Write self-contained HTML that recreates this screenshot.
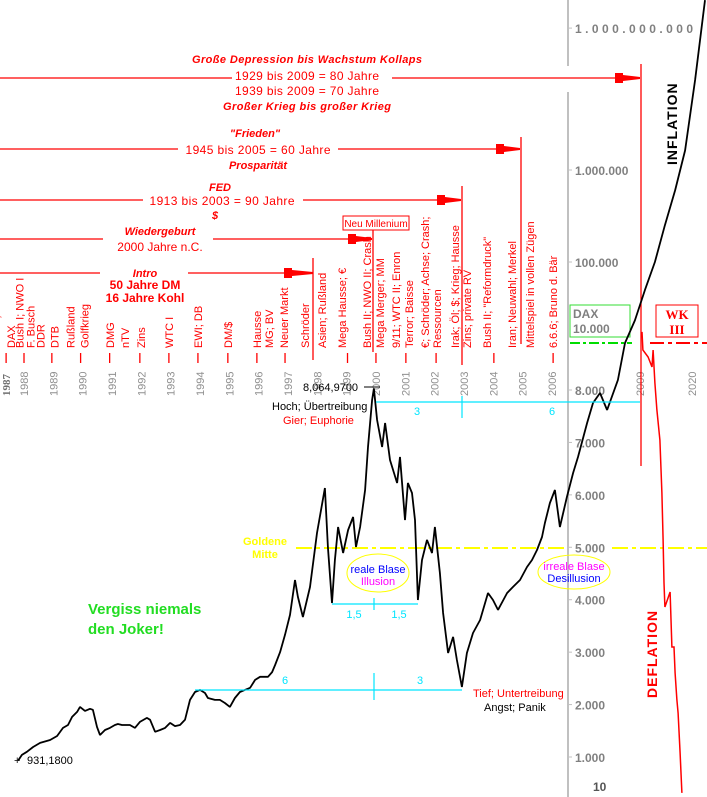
<!DOCTYPE html>
<html><head><meta charset="utf-8"><style>
html,body{margin:0;padding:0;background:#fff;}
svg{display:block;font-family:"Liberation Sans",sans-serif;}
</style></head><body>
<svg id="chart" width="707" height="797" viewBox="0 0 707 797" xmlns="http://www.w3.org/2000/svg">
<g id="axis">
<line x1="568" y1="0" x2="568" y2="66" stroke="#c0c0c0" stroke-width="2"/>
<line x1="568" y1="92" x2="568" y2="797" stroke="#c0c0c0" stroke-width="2"/>
</g>
<g id="yticks" fill="#808080" font-weight="bold" font-size="12"></g>
<g id="years" fill="#909090" font-size="11"></g>
<g id="events" fill="#ff0000" font-size="11"></g>

<g stroke="#ff0000" stroke-width="1.3">
<line x1="0" y1="78" x2="232" y2="78"/><line x1="392" y1="78" x2="640" y2="78"/>
<line x1="0" y1="149" x2="178" y2="149"/><line x1="338" y1="149" x2="520" y2="149"/>
<line x1="0" y1="200" x2="143" y2="200"/><line x1="303" y1="200" x2="461" y2="200"/>
<line x1="0" y1="239" x2="103" y2="239"/><line x1="213" y1="239" x2="372" y2="239"/>
<line x1="0" y1="273" x2="100" y2="273"/><line x1="188" y1="273" x2="313" y2="273"/>
<line x1="641" y1="64" x2="641" y2="466"/>
<line x1="521" y1="137" x2="521" y2="344"/>
<line x1="462" y1="186" x2="462" y2="365"/>
<line x1="373" y1="229" x2="373" y2="352"/>
<line x1="313" y1="258" x2="313" y2="360"/>
</g>
<g fill="#ff0000">
<polygon points="615,73 623,73 623,75 640,77 640,79 623,81 623,83 615,83"/>
<polygon points="496,144 504,144 504,146 520,148 520,150 504,152 504,154 496,154"/>
<polygon points="437,195 445,195 445,197 461,199 461,201 445,203 445,205 437,205"/>
<polygon points="348,234 356,234 356,236 372,238 372,240 356,242 356,244 348,244"/>
<polygon points="284,268 292,268 292,270 313,272 313,274 292,276 292,278 284,278"/>
</g>
<g fill="#ff0000" font-size="12" text-anchor="middle">
<text x="307" y="63" font-style="italic" font-weight="bold" font-size="11" textLength="230">Große Depression bis Wachstum Kollaps</text>
<text x="307" y="80" textLength="144">1929 bis 2009 = 80 Jahre</text>
<text x="307" y="95" textLength="144">1939 bis 2009 = 70 Jahre</text>
<text x="307" y="110" font-style="italic" font-weight="bold" font-size="11" textLength="168">Großer Krieg bis großer Krieg</text>
<text x="255" y="137" font-style="italic" font-weight="bold" font-size="11">"Frieden"</text>
<text x="258" y="154" textLength="145">1945 bis 2005 = 60 Jahre</text>
<text x="258" y="169" font-style="italic" font-weight="bold" font-size="11">Prosparität</text>
<text x="220" y="191" font-style="italic" font-weight="bold" font-size="11">FED</text>
<text x="222" y="205" textLength="145">1913 bis 2003 = 90 Jahre</text>
<text x="215" y="219" font-style="italic" font-weight="bold" font-size="11">$</text>
<text x="160" y="235" font-style="italic" font-weight="bold" font-size="11">Wiedergeburt</text>
<text x="160" y="251">2000 Jahre n.C.</text>
<text x="145" y="277" font-style="italic" font-weight="bold" font-size="11">Intro</text>
<text x="145" y="289" font-weight="bold" font-size="12">50 Jahre DM</text>
<text x="145" y="302" font-weight="bold" font-size="12">16 Jahre Kohl</text>
</g>
<g>
<rect x="343" y="216" width="66" height="14" fill="#fff" stroke="#ff0000"/>
<text x="376" y="227" font-size="10" fill="#ff0000" text-anchor="middle">Neu Millenium</text>
</g>

<line x1="296" y1="548" x2="568" y2="548" stroke="#ffff00" stroke-width="2" stroke-dasharray="16,4,4,4"/>
<line x1="612" y1="548" x2="707" y2="548" stroke="#ffff00" stroke-width="2" stroke-dasharray="16,4,4,4"/>
<text fill="#ffff00" font-weight="bold" font-size="11" text-anchor="middle"><tspan x="265" y="545">Goldene</tspan><tspan x="265" y="558">Mitte</tspan></text>
<line x1="570" y1="343" x2="632" y2="343" stroke="#00dd00" stroke-width="2" stroke-dasharray="10,3,3,3"/>
<line x1="650" y1="343" x2="707" y2="343" stroke="#ff0000" stroke-width="2" stroke-dasharray="14,4,4,4"/>
<g>
<rect x="570" y="305" width="60" height="32" fill="#fff" stroke="#33dd33"/>
<text x="573" y="318" font-size="12" font-weight="bold" fill="#808080">DAX</text>
<text x="573" y="333" font-size="12" font-weight="bold" fill="#808080">10.000</text>
</g>
<g>
<rect x="656" y="305" width="42" height="32" fill="#fff" stroke="#ff0000"/>
<text x="677" y="319" font-size="13" font-weight="bold" fill="#ff0000" text-anchor="middle" font-family="Liberation Serif, serif">WK</text>
<text x="677" y="334" font-size="13" font-weight="bold" fill="#ff0000" text-anchor="middle" font-family="Liberation Serif, serif">III</text>
</g>
<text transform="translate(677,165) rotate(-90)" font-size="14" font-weight="bold" fill="#000" letter-spacing="1">INFLATION</text>
<text transform="translate(657,698) rotate(-90)" font-size="14" font-weight="bold" fill="#ff0000" letter-spacing="1">DEFLATION</text>

<path id="daxLine" fill="none" stroke="#000" stroke-width="1.8" stroke-linejoin="bevel"/>
<path id="defLine" fill="none" stroke="#ff0000" stroke-width="1.5"/>

<g stroke="#00e5ff" stroke-width="1.2" fill="none">
<line x1="376" y1="402" x2="640" y2="402"/><line x1="462" y1="396" x2="462" y2="418"/>
<line x1="332" y1="604" x2="418" y2="604"/><line x1="374" y1="598" x2="374" y2="610"/>
<line x1="195" y1="690" x2="462" y2="690"/><line x1="374" y1="673" x2="374" y2="700"/>
</g>
<g fill="#00e5ff" font-size="11" text-anchor="middle">
<text x="417" y="415">3</text><text x="552" y="415">6</text>
<text x="354" y="618">1,5</text><text x="399" y="618">1,5</text>
<text x="285" y="684">6</text><text x="420" y="684">3</text>
</g>
<g>
<ellipse cx="378" cy="573" rx="31" ry="19" fill="none" stroke="#ffff00"/>
<text x="378" y="573" font-size="11" fill="#0000ff" text-anchor="middle">reale Blase</text>
<text x="378" y="585" font-size="11" fill="#ff00ff" text-anchor="middle">Illusion</text>
</g>
<g>
<ellipse cx="574" cy="572" rx="36" ry="17" fill="none" stroke="#ffff00"/>
<text x="574" y="570" font-size="11" fill="#ff00ff" text-anchor="middle">irreale Blase</text>
<text x="574" y="582" font-size="11" fill="#0000ff" text-anchor="middle">Desillusion</text>
</g>
<g font-size="11">
<text x="303" y="391" fill="#000">8,064,9700</text>
<line x1="364" y1="387" x2="380" y2="387" stroke="#000"/>
<text x="272" y="410" fill="#000">Hoch; Übertreibung</text>
<text x="283" y="424" fill="#ff0000">Gier; Euphorie</text>
<text x="473" y="697" fill="#ff0000">Tief; Untertreibung</text>
<text x="484" y="711" fill="#000">Angst; Panik</text>
<text x="14" y="764" fill="#000">+</text>
<text x="27" y="764" fill="#000">931,1800</text>
</g>
<text fill="#22dd22" font-weight="bold" font-size="15"><tspan x="88" y="614">Vergiss niemals</tspan><tspan x="88" y="634">den Joker!</tspan></text>
</svg>
<script>
const daxYears=[1987.80,1987.93,1988.10,1988.31,1988.55,1988.89,1989.13,1989.33,1989.50,1989.64,1989.81,1989.91,1990.08,1990.25,1990.35,1990.49,1990.59,1990.76,1990.93,1991.10,1991.20,1991.34,1991.61,1991.78,1991.95,1992.19,1992.30,1992.47,1992.64,1992.81,1992.98,1993.15,1993.32,1993.49,1993.66,1993.83,1994.00,1994.17,1994.27,1994.51,1994.68,1994.85,1995.02,1995.19,1995.36,1995.53,1995.71,1995.88,1996.05,1996.32,1996.46,1996.56,1996.73,1996.90,1997.07,1997.24,1997.34,1997.51,1997.75,1997.99,1998.26,1998.36,1998.50,1998.60,1998.71,1998.88,1999.05,1999.22,1999.32,1999.46,1999.63,1999.73,1999.87,1999.93,2000.04,2000.21,2000.31,2000.48,2000.72,2000.82,2000.99,2001.09,2001.23,2001.33,2001.43,2001.57,2001.74,2001.91,2002.01,2002.18,2002.29,2002.46,2002.63,2002.76,2002.93,2003.10,2003.31,2003.55,2003.82,2003.99,2004.16,2004.47,2004.67,2004.91,2005.15,2005.32,2005.49,2005.66,2005.76,2005.93,2006.10,2006.27,2006.51,2006.72,2006.89,2007.20,2007.40,2007.64,2007.88,2008.25,2008.49,2008.83,2009.17,2009.51,2009.85,2010.20,2010.54,2010.88,2011.22];
const daxValues=[931,1040,1100,1190,1270,1325,1400,1555,1610,1765,1860,1955,1880,1920,1900,1575,1420,1515,1555,1610,1630,1610,1610,1555,1670,1745,1710,1480,1515,1555,1650,1590,1610,1710,2090,2240,2280,2220,2125,2090,2090,2030,1955,2125,2240,2280,2320,2470,2530,2530,2620,2755,3000,3330,3710,4377,4053,3671,4243,5273,6131,5006,3938,4758,5387,4892,5330,5578,5006,5387,6093,6913,7809,8064,7428,6913,7371,6665,6226,6722,5521,6226,6036,5521,3995,4758,5140,4892,5387,4510,3747,2984,3290,2851,2336,2984,3366,3614,4129,3995,3805,4129,4243,4377,4625,4758,4949,5197,5464,5845,6093,5387,5960,6417,6722,7371,7752,7943,7619,8426,10000,19000,45000,100000,251000,600000,2600000,80000000,3900000000];
const defYears=[2009.07,2009.10,2009.28,2009.41,2009.45,2009.51,2009.58,2009.68,2009.75,2009.79,2009.82,2009.85,2010.03,2010.09,2010.16,2010.20,2010.26,2010.30,2010.37,2010.43];
const defValues=[13700,9702,9404,8979,9702,8298,7619,7047,6036,5140,4320,3862,4148,3099,3099,2603,2088,1840,1078,315];
const yTickLabels=["1.000.000.000","1.000.000","100.000","8.000","7.000","6.000","5.000","4.000","3.000","2.000","1.000"];
const yTickValues=[1e9,1e6,1e5,8000,7000,6000,5000,4000,3000,2000,1000];
const yearLabels=["1988","1989","1990","1991","1992","1993","1994","1995","1996","1997","1998","1999","2000","2001","2002","2003","2004","2005","2006","2009"];
const eventTexts=["Crash;","DAX","Bush I; NWO I","F. Busch","DDR","DTB","Rußland","Golfkrieg","DMG","nTV","Zins","WTC I","EWI; DB","DM/$","Hausse","MG; BV","Neuer Markt","Schröder","Asien; Rußland","Mega Hausse; €","Bush II; NWO II; Crash","Mega Merger; MM","9/11; WTC II; Enron","Terror; Baisse","€; Schröder; Achse; Crash;","Ressourcen","Irak; Öl; $; Krieg; Hausse","Zins; private RV","Bush II; \"Reformdruck\"","Iran; Neuwahl; Merkel","Mittelspiel in vollen Zügen","6.6.6; Bruno d. Bär"];
const eventYears=[1987.04,1987.55,1987.85,1988.22,1988.56,1989.04,1989.58,1990.06,1990.93,1991.44,1991.99,1992.94,1993.93,1994.95,1995.94,1996.35,1996.86,1997.58,1998.16,1998.84,1999.69,2000.14,2000.68,2001.13,2001.67,2002.08,2002.69,2003.10,2003.79,2004.64,2005.25,2006.04];
const tickYears=[1987.39,1988,1988.95,1989.93,1990.92,1991.95,1992.94,1993.93,1994.95,1995.94,1996.9,1999.03,2000,2001.02,2002.05,2004.02,2006.04];

function xOf(yr){return 24+(yr-1988)*29.33;}
function yOf(v){
 if(v<=8000) return 390+(8000-v)*0.05243;
 if(v<=10000) return 390-(v-8000)/2000*47;
 const l=Math.log10(v);
 if(v<=1e5) return 343-(l-4)*81;
 if(v<=1e6) return 262-(l-5)*92;
 return 170-(l-6)*47.3;
}
const NS="http://www.w3.org/2000/svg";
function path(xs,vs){let d="";for(let i=0;i<xs.length;i++){d+=(i?"L":"M")+xOf(xs[i]).toFixed(1)+","+yOf(vs[i]).toFixed(1);}return d;}
document.getElementById("daxLine").setAttribute("d",path(daxYears,daxValues));
document.getElementById("defLine").setAttribute("d",path(defYears,defValues));

const yt=document.getElementById("yticks");
for(let i=0;i<yTickLabels.length;i++){
 const t=document.createElementNS(NS,"text");
 
 
 t.setAttribute("x",575);
 t.setAttribute("y",(yOf(yTickValues[i])+5).toFixed(1));
 if(i===0){t.setAttribute("textLength","118");t.setAttribute("y","33");}
 t.textContent=yTickLabels[i];
 yt.appendChild(t);
 const m=document.createElementNS(NS,"line");
 
 
 m.setAttribute("x1",568);m.setAttribute("x2",572);
 m.setAttribute("y1",yOf(yTickValues[i]));m.setAttribute("y2",yOf(yTickValues[i]));
 m.setAttribute("stroke","#c0c0c0");
 yt.appendChild(m);
}
const t10=document.createElementNS(NS,"text");


t10.setAttribute("x",593);t10.setAttribute("y",791);t10.setAttribute("fill","#555");
t10.textContent="10";yt.appendChild(t10);

const yg=document.getElementById("years");
function yearLabel(txt,x,bold){
 const t=document.createElementNS(NS,"text");
 
 
 t.setAttribute("transform","translate("+(x+4).toFixed(1)+",396) rotate(-90)");
 if(bold){t.setAttribute("font-weight","bold");t.setAttribute("fill","#707070");t.setAttribute("font-family","Liberation Serif, serif");}
 t.textContent=txt;yg.appendChild(t);
}
yearLabel("1987",6,true);
for(const y of yearLabels){yearLabel(y,xOf(+y),false);}
yearLabel("2020",692,false);

const eg=document.getElementById("events");
for(let i=0;i<eventTexts.length;i++){
 const t=document.createElementNS(NS,"text");
 
 
 t.setAttribute("transform","translate("+(xOf(eventYears[i])+4).toFixed(1)+",348) rotate(-90)");
 t.textContent=eventTexts[i];eg.appendChild(t);
}
for(const ty of tickYears){
 const l=document.createElementNS(NS,"line");
 
 
 l.setAttribute("x1",xOf(ty));l.setAttribute("x2",xOf(ty));
 l.setAttribute("y1",353);l.setAttribute("y2",363);
 l.setAttribute("stroke","#ff0000");l.setAttribute("stroke-width","1.3");
 eg.appendChild(l);
}
</script>
</body></html>
